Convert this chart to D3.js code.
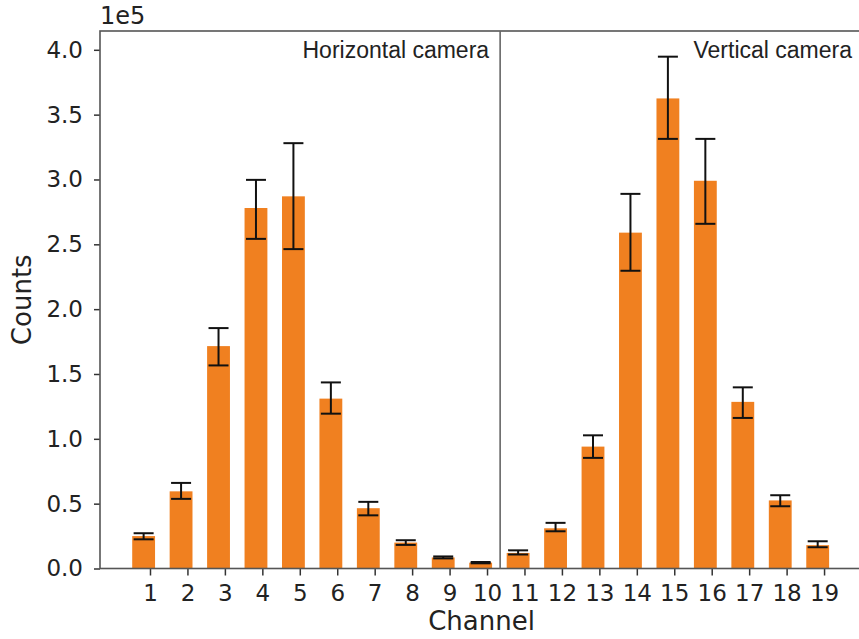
<!DOCTYPE html>
<html lang="en">
<head>
  <meta charset="UTF-8" />
  <title>Counts per channel</title>
  <script src="https://d3js.org/d3.v7.min.js"></script>
  <style>
    body { margin: 0; background: #fff; }
    svg text { fill: #222; }
  </style>
</head>
<body>
  <svg id="chart" width="859" height="639"></svg>

  <script>
    // channel numbers
    const channels = [1, 2, 3, 4, 5, 6, 7, 8, 9, 10, 11, 12, 13, 14, 15, 16, 17, 18, 19];
    // bar heights (counts)
    const counts = [25000, 59500, 171500, 278000, 287000, 131000, 46500, 20000, 8500, 4500,
                    12000, 31000, 94000, 259000, 362500, 299000, 128500, 52500, 18000];
    // error bar ends (counts)
    const errLow = [22500, 53700, 156600, 254200, 246300, 119400, 41000, 18200, 7800, 4000,
                    10800, 28700, 85300, 229600, 331300, 265800, 116100, 48000, 16400];
    const errHigh = [27200, 66000, 185400, 299700, 328000, 143500, 51400, 21800, 9300, 5000,
                     14000, 35200, 102700, 288900, 394700, 331300, 139700, 56500, 21000];
    const yTicks = [0, 50000, 100000, 150000, 200000, 250000, 300000, 350000, 400000];
    const cameras = ["Horizontal camera", "Vertical camera"];
    const dividerAt = 10.35;

    const svg = d3.select("#chart");
    const mLeft = 100, mRight = 863, mTop = 31, mBottom = 568.5;

    const x = d3.scaleLinear().domain([-0.335, 20.04]).range([mLeft, mRight]);
    const y = d3.scaleLinear().domain([0, 414500]).range([mBottom, mTop]);

    const barW = x(0.61) - x(0);
    const shift = 0.17; // bars sit a little left of their ticks
    const capW = 20;

    // bars
    svg.selectAll(".bar")
      .data(channels)
      .enter()
      .append("rect")
      .attr("class", "bar")
      .attr("x", (d) => x(d - shift) - barW / 2)
      .attr("y", (d, i) => y(counts[i]))
      .attr("width", barW)
      .attr("height", (d, i) => y(0) - y(counts[i]))
      .style("fill", "#f08020");

    // error bars
    const err = svg.selectAll(".err")
      .data(channels)
      .enter()
      .append("g")
      .attr("class", "err")
      .style("stroke", "#111")
      .style("stroke-width", 2);

    err.append("line")
      .attr("x1", (d) => x(d - shift))
      .attr("x2", (d) => x(d - shift))
      .attr("y1", (d, i) => y(errLow[i]))
      .attr("y2", (d, i) => y(errHigh[i]));

    err.append("line")
      .attr("x1", (d) => x(d - shift) - capW / 2)
      .attr("x2", (d) => x(d - shift) + capW / 2)
      .attr("y1", (d, i) => y(errLow[i]))
      .attr("y2", (d, i) => y(errLow[i]));

    err.append("line")
      .attr("x1", (d) => x(d - shift) - capW / 2)
      .attr("x2", (d) => x(d - shift) + capW / 2)
      .attr("y1", (d, i) => y(errHigh[i]))
      .attr("y2", (d, i) => y(errHigh[i]));

    // axes
    const xAxis = d3.axisBottom(x).tickValues(channels).tickSize(7).tickPadding(9)
      .tickFormat(d3.format("d"));
    const yAxis = d3.axisLeft(y).tickValues(yTicks).tickSize(6).tickPadding(11)
      .tickFormat((d) => (d / 1e5).toFixed(1));

    const gx = svg.append("g").attr("transform", `translate(0,${mBottom})`).call(xAxis);
    const gy = svg.append("g").attr("transform", `translate(${mLeft},0)`).call(yAxis);

    [gx, gy].forEach((g) => {
      g.select(".domain").remove();
      g.selectAll(".tick line").style("stroke", "#333").style("stroke-width", 1.5);
      g.selectAll(".tick text")
        .style("font-family", "DejaVu Sans")
        .style("font-size", "23px")
        .style("fill", "#222");
    });

    // frame + divider
    svg.append("rect")
      .attr("x", mLeft).attr("y", mTop)
      .attr("width", mRight - mLeft).attr("height", mBottom - mTop)
      .style("fill", "none").style("stroke", "#555").style("stroke-width", 1.6);

    svg.append("line")
      .attr("x1", x(dividerAt)).attr("x2", x(dividerAt))
      .attr("y1", mTop).attr("y2", mBottom)
      .style("stroke", "#666").style("stroke-width", 1.6);

    // camera labels, right-aligned in each half
    svg.selectAll(".cam")
      .data(cameras)
      .enter()
      .append("text")
      .attr("class", "cam")
      .attr("x", (d, i) => (i === 0 ? x(dividerAt) : mRight) - 11)
      .attr("y", 58)
      .attr("text-anchor", "end")
      .style("font-family", "Liberation Sans, Arial, sans-serif")
      .style("font-size", "23px")
      .text((d) => d);

    // offset text + axis titles
    svg.append("text")
      .attr("x", mLeft).attr("y", 24)
      .style("font-family", "DejaVu Sans")
      .style("font-size", "24px")
      .text("1e5");

    svg.append("text")
      .attr("x", (mLeft + mRight) / 2).attr("y", 630)
      .attr("text-anchor", "middle")
      .style("font-family", "DejaVu Sans")
      .style("font-size", "26px")
      .text("Channel");

    svg.append("text")
      .attr("transform", `translate(31,${(mTop + mBottom) / 2}) rotate(-90)`)
      .attr("text-anchor", "middle")
      .style("font-family", "DejaVu Sans")
      .style("font-size", "26px")
      .text("Counts");
  </script>
</body>
</html>
